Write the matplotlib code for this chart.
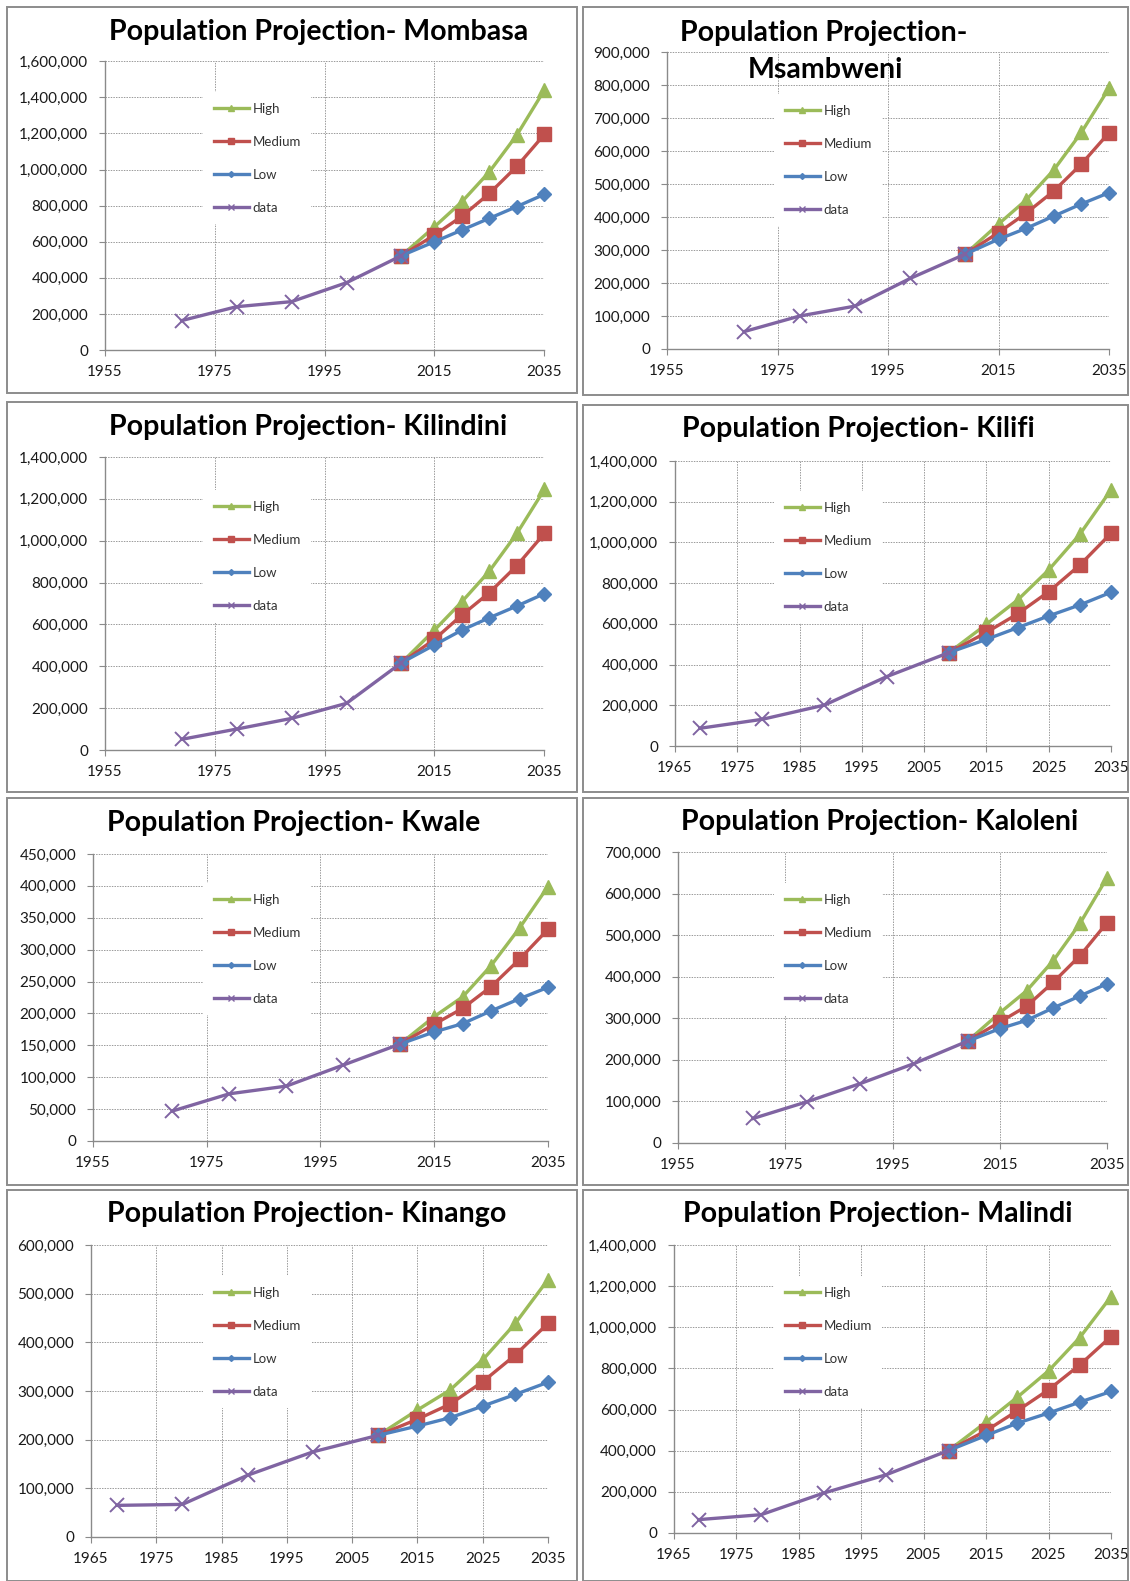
import matplotlib
matplotlib.use('Agg')
import matplotlib.pyplot as plt
from matplotlib.lines import Line2D
from matplotlib.patches import Rectangle
from matplotlib.ticker import FuncFormatter, MultipleLocator

# ---------------- data ----------------
years_data = [1969, 1979, 1989, 1999, 2009]
years_proj = [2009, 2015, 2020, 2025, 2030, 2035]
series_labels = ["High", "Medium", "Low", "data"]

mombasa_data = [163000, 240000, 268000, 373000, 523000]
mombasa_high = [523000, 683000, 822000, 988000, 1192000, 1441000]
mombasa_med = [523000, 637000, 741000, 868000, 1018000, 1195000]
mombasa_low = [523000, 600000, 665000, 730000, 795000, 863000]

msambweni_data = [53000, 100000, 130000, 214000, 288000]
msambweni_high = [288000, 379000, 452000, 543000, 657000, 791000]
msambweni_med = [288000, 353000, 412000, 479000, 561000, 656000]
msambweni_low = [288000, 333000, 366000, 403000, 440000, 474000]

kilindini_data = [51000, 100000, 151000, 223000, 417000]
kilindini_high = [417000, 573000, 709000, 855000, 1035000, 1245000]
kilindini_med = [417000, 529000, 645000, 752000, 881000, 1035000]
kilindini_low = [417000, 502000, 573000, 632000, 688000, 747000]

kilifi_data = [87000, 131000, 201000, 341000, 459000]
kilifi_high = [459000, 598000, 717000, 865000, 1040000, 1258000]
kilifi_med = [459000, 558000, 649000, 758000, 889000, 1045000]
kilifi_low = [459000, 524000, 581000, 639000, 693000, 755000]

kwale_data = [47000, 74000, 86000, 119000, 152000]
kwale_high = [152000, 195000, 226000, 275000, 334000, 399000]
kwale_med = [152000, 183000, 208000, 242000, 285000, 332000]
kwale_low = [152000, 171000, 184000, 204000, 223000, 241000]

kaloleni_data = [59000, 99000, 143000, 191000, 245000]
kaloleni_high = [245000, 313000, 366000, 439000, 529000, 638000]
kaloleni_med = [245000, 291000, 329000, 387000, 451000, 530000]
kaloleni_low = [245000, 275000, 295000, 325000, 354000, 383000]

kinango_data = [65000, 67000, 127000, 175000, 209000]
kinango_high = [209000, 261000, 302000, 364000, 439000, 529000]
kinango_med = [209000, 242000, 273000, 319000, 374000, 439000]
kinango_low = [209000, 228000, 245000, 269000, 293000, 318000]

malindi_data = [65000, 89000, 194000, 283000, 401000]
malindi_high = [401000, 539000, 660000, 788000, 950000, 1149000]
malindi_med = [401000, 497000, 594000, 696000, 817000, 955000]
malindi_low = [401000, 474000, 534000, 583000, 636000, 688000]

# ---------------- layout (pixels) ----------------
W, H = 1130, 1581
plt.rcParams['font.family'] = ['Lato', 'DejaVu Sans']

fig = plt.figure(figsize=(W / 100, H / 100), dpi=100)
fig.patch.set_facecolor('white')

bg = fig.add_axes([0, 0, 1, 1], zorder=0)
bg.set_xlim(0, W)
bg.set_ylim(H, 0)
bg.axis('off')

COL_HIGH = '#9BBB59'
COL_MED = '#C0504D'
COL_LOW = '#4F81BD'
COL_DATA = '#8064A2'
GRID = '#9a9a9a'
SPINE = '#8a8a8a'

panels = [
    dict(title=["Population Projection- Mombasa"], tpos=[(319, 32)],
         box=(6.5, 7, 577, 393), plot=(104.7, 61.3, 544.4, 350),
         x0=1955, xstep=20, ymax=1600000, ystep=200000, leg=(203, 92),
         d=mombasa_data, h=mombasa_high, m=mombasa_med, l=mombasa_low),
    dict(title=["Population Projection-", "Msambweni"], tpos=[(824, 33), (825, 70)],
         box=(582.5, 7, 1128, 395), plot=(667, 52.3, 1109, 349),
         x0=1955, xstep=20, ymax=900000, ystep=100000, leg=(774, 94),
         d=msambweni_data, h=msambweni_high, m=msambweni_med, l=msambweni_low),
    dict(title=["Population Projection- Kilindini"], tpos=[(308, 427)],
         box=(6.5, 402, 577, 792), plot=(104.7, 457, 544.4, 750),
         x0=1955, xstep=20, ymax=1400000, ystep=200000, leg=(203, 490),
         d=kilindini_data, h=kilindini_high, m=kilindini_med, l=kilindini_low),
    dict(title=["Population Projection- Kilifi"], tpos=[(858, 429)],
         box=(582.5, 405, 1128, 792), plot=(675, 461, 1111, 746),
         x0=1965, xstep=10, ymax=1400000, ystep=200000, leg=(774, 491),
         d=kilifi_data, h=kilifi_high, m=kilifi_med, l=kilifi_low),
    dict(title=["Population Projection- Kwale"], tpos=[(294, 823)],
         box=(6.5, 798, 577, 1185), plot=(92.7, 854, 548, 1141),
         x0=1955, xstep=20, ymax=450000, ystep=50000, leg=(203, 883),
         d=kwale_data, h=kwale_high, m=kwale_med, l=kwale_low),
    dict(title=["Population Projection- Kaloleni"], tpos=[(880, 822)],
         box=(582.5, 798, 1128, 1185), plot=(678, 852, 1107, 1143),
         x0=1955, xstep=20, ymax=700000, ystep=100000, leg=(774, 883),
         d=kaloleni_data, h=kaloleni_high, m=kaloleni_med, l=kaloleni_low),
    dict(title=["Population Projection- Kinango"], tpos=[(307, 1214)],
         box=(6.5, 1190, 577, 1581), plot=(91, 1245, 548, 1537),
         x0=1965, xstep=10, ymax=600000, ystep=100000, leg=(203, 1276),
         d=kinango_data, h=kinango_high, m=kinango_med, l=kinango_low),
    dict(title=["Population Projection- Malindi"], tpos=[(878, 1214)],
         box=(582.5, 1190, 1128, 1581), plot=(673.6, 1245, 1111, 1533),
         x0=1965, xstep=10, ymax=1400000, ystep=200000, leg=(774, 1276),
         d=malindi_data, h=malindi_high, m=malindi_med, l=malindi_low),
]

fmt = FuncFormatter(lambda v, p: f"{int(round(v)):,}")

legend_handles = [
    Line2D([], [], color=COL_HIGH, lw=2.4, marker='^', ms=5),
    Line2D([], [], color=COL_MED, lw=2.4, marker='s', ms=4.5),
    Line2D([], [], color=COL_LOW, lw=2.4, marker='D', ms=3),
    Line2D([], [], color=COL_DATA, lw=2.4, marker='x', ms=5, mew=1),
]

for p in panels:
    bx0, by0, bx1, by1 = p['box']
    bg.add_patch(Rectangle((bx0, by0), bx1 - bx0, by1 - by0, fill=False,
                           edgecolor='#8c8c8c', lw=1.4))
    for (tx, ty), t in zip(p['tpos'], p['title']):
        fig.text(tx / W, 1 - ty / H, t, ha='center', va='center',
                 fontsize=20.5, fontweight='bold', color='black')

    x0, y0, x1, y1 = p['plot']
    ax = fig.add_axes([x0 / W, 1 - y1 / H, (x1 - x0) / W, (y1 - y0) / H], zorder=1)
    ax.patch.set_alpha(0)
    ax.set_xlim(p['x0'], 2035)
    ax.set_ylim(0, p['ymax'])
    ax.xaxis.set_major_locator(MultipleLocator(p['xstep'], offset=p['x0'] % p['xstep']))
    ax.yaxis.set_major_locator(MultipleLocator(p['ystep']))
    ax.yaxis.set_major_formatter(fmt)
    ax.grid(True, color=GRID, lw=0.7, linestyle=(0, (1.5, 1.2)))
    ax.set_axisbelow(True)
    for s in ['top', 'right']:
        ax.spines[s].set_visible(False)
    for s in ['left', 'bottom']:
        ax.spines[s].set_color(SPINE)
        ax.spines[s].set_linewidth(1.0)
    ax.tick_params(axis='both', direction='out', length=4, width=0.8, color=SPINE,
                   labelsize=11, labelcolor='#1a1a1a')
    ax.tick_params(axis='y', pad=8)
    ax.tick_params(axis='x', pad=7)

    ax.plot(years_proj, p['h'], color=COL_HIGH, lw=2.4, marker='^', ms=10,
            clip_on=False, zorder=3)
    ax.plot(years_proj, p['m'], color=COL_MED, lw=2.4, marker='s', ms=9.5,
            clip_on=False, zorder=4)
    ax.plot(years_proj, p['l'], color=COL_LOW, lw=2.4, marker='D', ms=7,
            clip_on=False, zorder=5)
    ax.plot(years_data, p['d'], color=COL_DATA, lw=2.4, marker='x', ms=10, mew=1.4,
            clip_on=False, zorder=6)

    lx, ly = p['leg']
    leg = ax.legend(legend_handles, series_labels, loc='upper left',
                    bbox_to_anchor=(lx / W, 1 - ly / H), bbox_transform=fig.transFigure,
                    borderaxespad=0, frameon=True, fancybox=False, framealpha=1,
                    facecolor='white', edgecolor='none', fontsize=9.5,
                    handlelength=2.7, handletextpad=0.25, labelspacing=1.6,
                    borderpad=0.8)
    for t in leg.get_texts():
        t.set_color('#333333')
    leg.set_zorder(10)

fig.savefig('out.png', dpi=100, facecolor='white')
